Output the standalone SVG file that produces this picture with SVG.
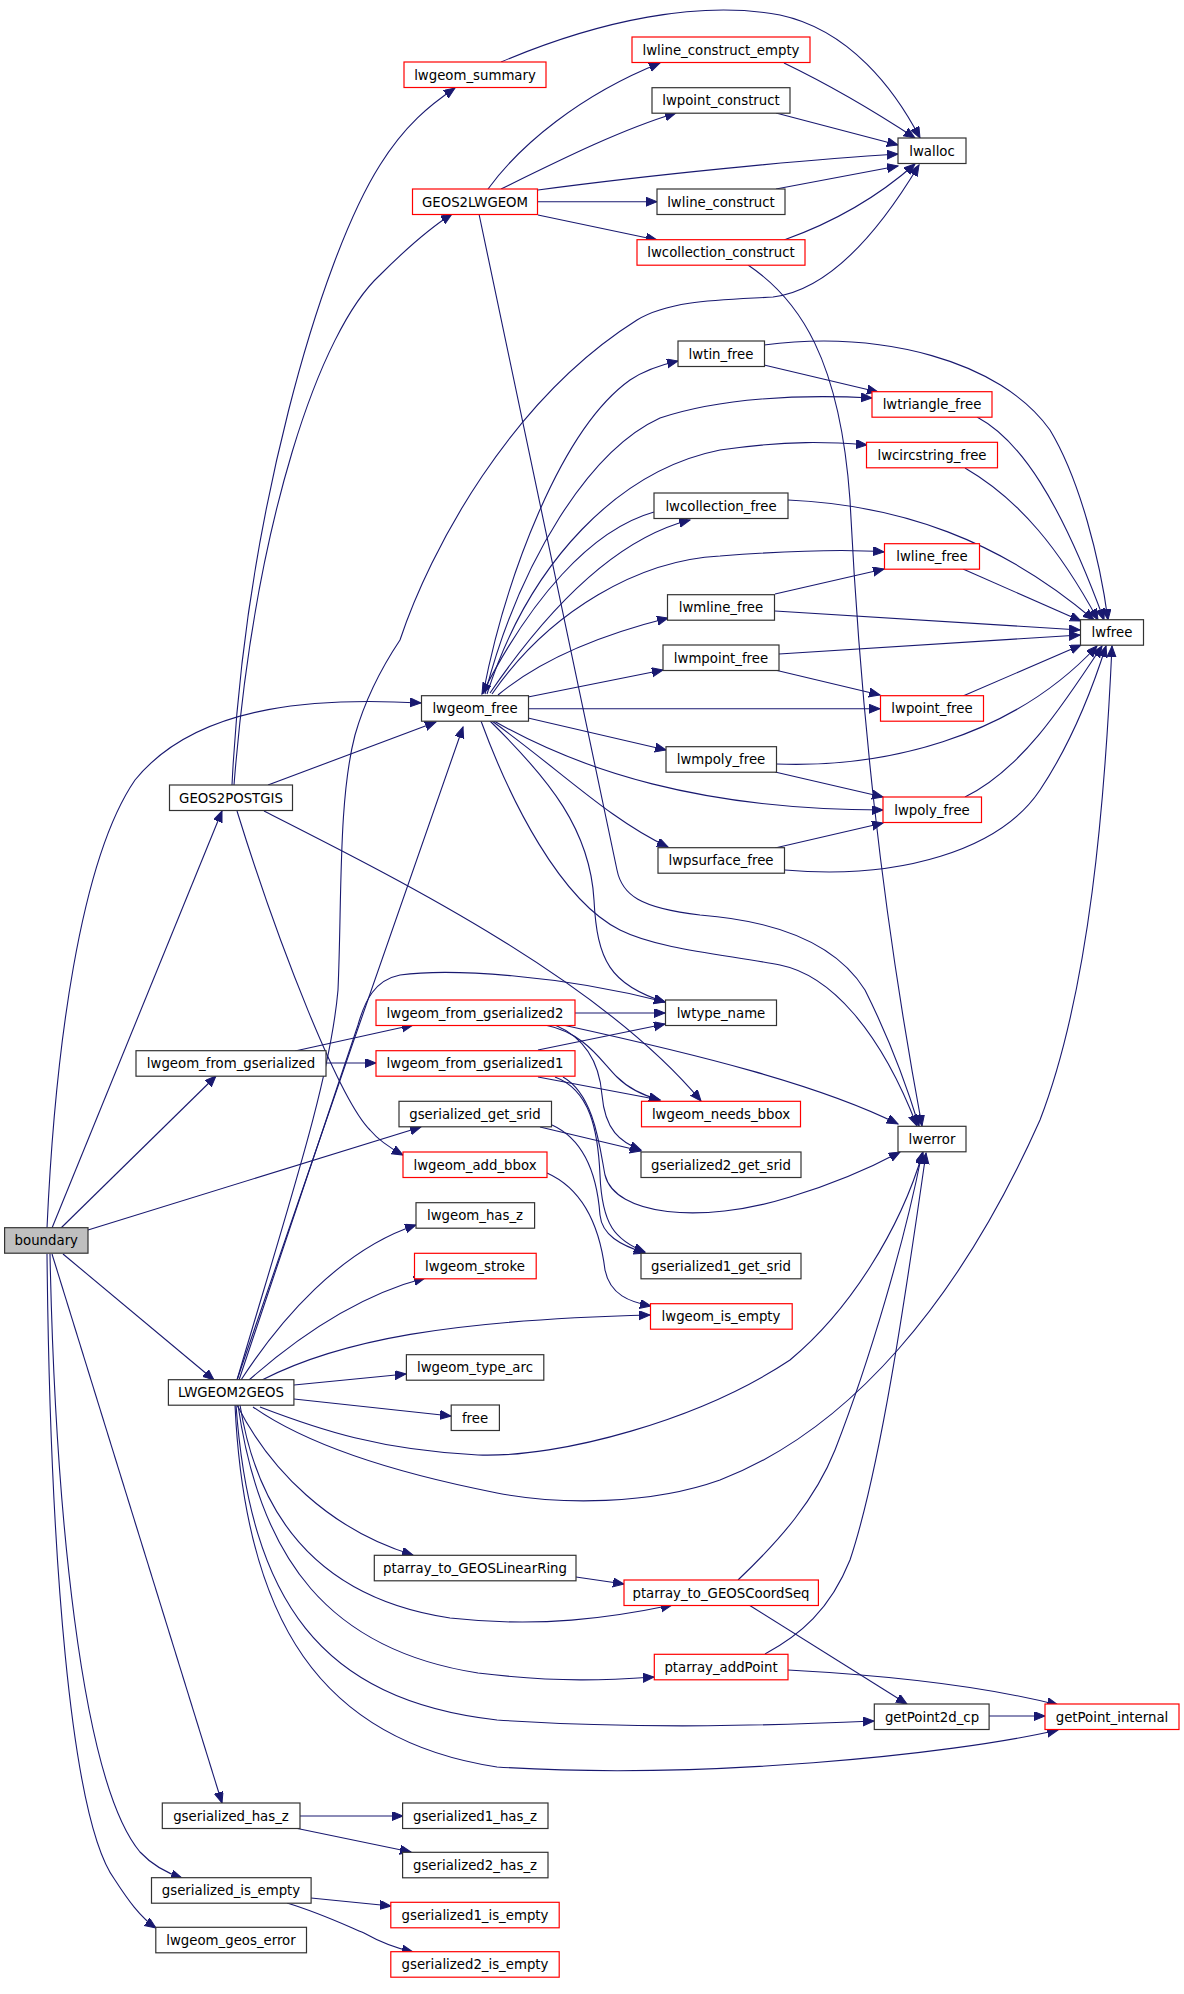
<svg xmlns="http://www.w3.org/2000/svg" width="1184" height="1994" viewBox="0 0 1184 1994">
<style>
rect{fill:#fff;stroke:#333;stroke-width:1.2}
.r rect{stroke:#f00}
.g rect{fill:#bfbfbf}
text{font-family:"DejaVu Sans",sans-serif;font-size:13.3px;text-anchor:middle;fill:#000}
#edges path{fill:none;stroke:#191970;stroke-width:1.1;marker-end:url(#a)}
</style>
<defs>
<marker id="a" markerWidth="13" markerHeight="10" refX="11" refY="4.5" orient="auto" markerUnits="userSpaceOnUse"><path d="M0,0 L11,4.5 L0,9 Z" fill="#191970" stroke="#191970" stroke-width="1"/></marker>
</defs>
<rect x="0" y="0" width="1184" height="1994" style="fill:#fff;stroke:none"/>
<g id="edges">
<path d="M47,1228 C55,1050 80,860 135,780 C200,700 330,698 421,703"/>
<path d="M52,1228 L222,811"/>
<path d="M61,1228 L216,1076"/>
<path d="M88,1230 L421,1127"/>
<path d="M63,1254 L214,1380"/>
<path d="M52,1254 L222,1803"/>
<path d="M50,1254 C55,1500 80,1780 140,1852 C155,1868 170,1874 182,1878"/>
<path d="M47,1254 C50,1550 70,1820 115,1880 C128,1900 140,1917 156,1928"/>
<path d="M232,785 C245,520 320,260 380,165 C405,125 430,105 455,88"/>
<path d="M234,785 C255,520 320,330 380,275 C405,250 430,228 452,214"/>
<path d="M268,785 L436,722"/>
<path d="M264,811 C400,880 600,980 701,1101"/>
<path d="M237,811 C280,950 340,1100 370,1130 C380,1142 392,1149 403,1155"/>
<path d="M295,1051 L413,1025"/>
<path d="M326,1063 L376,1063"/>
<path d="M575,1013 L665,1013"/>
<path d="M545,1025 C585,1033 600,1060 617,1077 C630,1090 645,1096 660,1100"/>
<path d="M555,1025 C590,1040 600,1070 602,1095 C605,1130 620,1142 641,1150"/>
<path d="M563,1025 C700,1055 820,1085 898,1124"/>
<path d="M538,1050 L665,1024"/>
<path d="M538,1077 L660,1100"/>
<path d="M555,1077 C590,1090 598,1130 600,1175 C602,1225 615,1240 645,1252"/>
<path d="M563,1077 C595,1095 600,1150 605,1175 C615,1215 700,1225 790,1197 C830,1185 870,1168 900,1152"/>
<path d="M540,1127 L641,1151"/>
<path d="M552,1125 C585,1140 597,1175 600,1215 C602,1235 620,1245 645,1253"/>
<path d="M547,1173 C585,1190 600,1230 605,1270 C610,1295 630,1302 651,1306"/>
<path d="M488,189 C520,145 580,95 660,63"/>
<path d="M501,189 C560,160 620,130 676,113"/>
<path d="M538,190 C650,175 800,160 898,154"/>
<path d="M538,201.7 L657,201.7"/>
<path d="M538,215 L657,240"/>
<path d="M479,214 L617,870 C622,895 640,908 700,915 C790,922 840,950 865,990 C885,1030 905,1080 919,1126"/>
<path d="M481,721 C510,800 560,900 620,930 C660,950 730,955 780,965 C830,975 880,1030 917,1126"/>
<path d="M490,721 C550,780 590,830 594,900 C597,960 610,985 665,1002"/>
<path d="M492,721 C560,770 610,820 668,847"/>
<path d="M494,721 C580,770 700,810 883,810"/>
<path d="M528,718 L666,750"/>
<path d="M528,708.7 L880,708.7"/>
<path d="M528,697 L663,670"/>
<path d="M498,695 C540,660 600,635 668,618"/>
<path d="M492,694 C550,610 640,560 720,556 C800,550 850,549 884,552"/>
<path d="M490,693 C540,620 610,540 690,520"/>
<path d="M654,512 C590,530 530,600 482,694"/>
<path d="M487,694 C530,560 620,470 720,450 C790,440 830,442 867,445"/>
<path d="M485,694 C520,560 590,450 660,418 C720,398 800,394 872,398"/>
<path d="M483,694 C505,580 560,430 630,380 C645,370 660,365 678,361"/>
<path d="M788,500 C900,505 1000,540 1094,620"/>
<path d="M963,569 L1081,621"/>
<path d="M775,611 L1080,630"/>
<path d="M779,654 L1080,635"/>
<path d="M963,696 L1081,645"/>
<path d="M776,764 C880,768 1010,740 1097,646"/>
<path d="M965,797 C1020,770 1060,710 1102,646"/>
<path d="M785,870 C900,880 1000,850 1040,790 C1070,745 1092,690 1106,646"/>
<path d="M764,345 C880,330 1000,360 1050,430 C1080,480 1100,560 1108,620"/>
<path d="M977,417 C1020,440 1060,500 1104,620"/>
<path d="M965,468 C1020,500 1060,550 1098,620"/>
<path d="M775,594 L884,569"/>
<path d="M775,670 L880,695"/>
<path d="M775,772 L883,797"/>
<path d="M775,848 L883,823"/>
<path d="M764,365 L878,392"/>
<path d="M784,63 C840,90 880,115 915,138"/>
<path d="M776,113 L898,145"/>
<path d="M776,189 L898,166"/>
<path d="M784,240 C840,220 880,195 915,164"/>
<path d="M501,62 C600,20 700,0 780,15 C850,30 895,90 920,138"/>
<path d="M748,265 C800,300 840,360 850,500 C860,700 880,900 922,1126"/>
<path d="M237,1380 C290,1200 330,1080 338,990 C342,900 338,800 355,735 C365,700 380,670 400,640 C430,550 510,400 637,320 C670,300 720,300 773,297 C830,290 880,230 919,165"/>
<path d="M237,1380 C270,1280 420,850 463,727"/>
<path d="M239,1380 L358,1025 C365,1000 375,980 400,975 C450,968 560,975 665,1002"/>
<path d="M241,1380 C280,1320 340,1250 416,1225"/>
<path d="M249,1380 C300,1335 360,1295 425,1278"/>
<path d="M262,1380 C340,1340 450,1320 650,1315"/>
<path d="M294,1385 L406,1374"/>
<path d="M294,1399 L451,1416"/>
<path d="M260,1407 C320,1430 380,1450 478,1455 C560,1458 700,1420 790,1360 C850,1310 900,1230 923,1152"/>
<path d="M253,1407 C300,1440 380,1470 497,1493 C560,1505 650,1505 720,1480 C850,1430 960,1300 1040,1120 C1090,990 1105,800 1112,646"/>
<path d="M237,1405 C270,1470 330,1530 413,1555"/>
<path d="M240,1405 C260,1530 330,1600 450,1618 C540,1628 610,1618 672,1605"/>
<path d="M238,1405 C260,1560 330,1650 478,1673 C560,1683 610,1680 654,1677"/>
<path d="M236,1405 C250,1600 320,1700 497,1720 C650,1730 780,1725 874,1721"/>
<path d="M235,1405 C245,1620 320,1740 497,1767 C700,1780 950,1755 1058,1730"/>
<path d="M576,1577 L624,1584"/>
<path d="M738,1580 C780,1540 815,1500 835,1450 C870,1360 905,1240 922,1153"/>
<path d="M765,1654 C800,1635 830,1610 850,1560 C880,1470 905,1300 926,1153"/>
<path d="M749,1605 L907,1704"/>
<path d="M788,1670 C880,1675 980,1685 1058,1705"/>
<path d="M989,1716 L1045,1716"/>
<path d="M300,1816 L403,1816"/>
<path d="M295,1828 L411,1852"/>
<path d="M311,1898 L391,1906"/>
<path d="M287,1903 C320,1913 345,1925 364,1933 C380,1942 395,1948 413,1952"/>
</g>
<g id="boundary" class="g"><rect x="4.6" y="1227.7" width="83.4" height="25.5"/><text x="46.3" y="1245">boundary</text></g>
<g id="lwline_construct_empty" class="r"><rect x="632" y="37" width="178" height="25.5"/><text x="721" y="54.5">lwline_construct_empty</text></g>
<g id="lwgeom_summary" class="r"><rect x="404" y="62" width="142" height="25.5"/><text x="475" y="79.5">lwgeom_summary</text></g>
<g id="lwpoint_construct"><rect x="652" y="87.7" width="138" height="25.5"/><text x="721" y="105.2">lwpoint_construct</text></g>
<g id="lwalloc"><rect x="898" y="138" width="68" height="25.5"/><text x="932" y="155.5">lwalloc</text></g>
<g id="GEOS2LWGEOM" class="r"><rect x="412.5" y="189" width="125" height="25.5"/><text x="475" y="206.5">GEOS2LWGEOM</text></g>
<g id="lwline_construct"><rect x="657" y="189" width="128" height="25.5"/><text x="721" y="206.5">lwline_construct</text></g>
<g id="lwcollection_construct" class="r"><rect x="637" y="239.7" width="168" height="25.5"/><text x="721" y="257.2">lwcollection_construct</text></g>
<g id="lwtin_free"><rect x="678" y="341" width="86.5" height="25.5"/><text x="721" y="358.5">lwtin_free</text></g>
<g id="lwtriangle_free" class="r"><rect x="872" y="391.7" width="120" height="25.5"/><text x="932" y="409.2">lwtriangle_free</text></g>
<g id="lwcircstring_free" class="r"><rect x="866.5" y="442.3" width="131" height="25.5"/><text x="932" y="459.8">lwcircstring_free</text></g>
<g id="lwcollection_free"><rect x="654" y="493" width="134" height="25.5"/><text x="721" y="510.5">lwcollection_free</text></g>
<g id="lwline_free" class="r"><rect x="884.5" y="543.7" width="95" height="25.5"/><text x="932" y="561.2">lwline_free</text></g>
<g id="lwmline_free"><rect x="667.5" y="594.7" width="107" height="25.5"/><text x="721" y="612.2">lwmline_free</text></g>
<g id="lwfree"><rect x="1080.5" y="619.7" width="63" height="25.5"/><text x="1112" y="637.2">lwfree</text></g>
<g id="lwmpoint_free"><rect x="663" y="645" width="116" height="25.5"/><text x="721" y="662.5">lwmpoint_free</text></g>
<g id="lwpoint_free" class="r"><rect x="880.5" y="695.7" width="103" height="25.5"/><text x="932" y="713.2">lwpoint_free</text></g>
<g id="lwgeom_free"><rect x="421.5" y="695.7" width="107" height="25.5"/><text x="475" y="713.2">lwgeom_free</text></g>
<g id="GEOS2POSTGIS"><rect x="169.5" y="785" width="123" height="25.5"/><text x="231" y="802.5">GEOS2POSTGIS</text></g>
<g id="lwmpoly_free"><rect x="666" y="746.7" width="110.5" height="25.5"/><text x="721" y="764.2">lwmpoly_free</text></g>
<g id="lwpoly_free" class="r"><rect x="883" y="797" width="98.5" height="25.5"/><text x="932" y="814.5">lwpoly_free</text></g>
<g id="lwpsurface_free"><rect x="658" y="847.7" width="126.5" height="25.5"/><text x="721" y="865.2">lwpsurface_free</text></g>
<g id="lwtype_name"><rect x="665.5" y="1000" width="111" height="25.5"/><text x="721" y="1017.5">lwtype_name</text></g>
<g id="lwgeom_from_gserialized2" class="r"><rect x="376" y="1000" width="199" height="25.5"/><text x="475" y="1017.5">lwgeom_from_gserialized2</text></g>
<g id="lwgeom_from_gserialized"><rect x="136" y="1050.7" width="190" height="25.5"/><text x="231" y="1068.2">lwgeom_from_gserialized</text></g>
<g id="lwgeom_from_gserialized1" class="r"><rect x="376" y="1050.7" width="199" height="25.5"/><text x="475" y="1068.2">lwgeom_from_gserialized1</text></g>
<g id="gserialized_get_srid"><rect x="399" y="1101.3" width="152.5" height="25.5"/><text x="475" y="1118.8">gserialized_get_srid</text></g>
<g id="lwgeom_needs_bbox" class="r"><rect x="641.5" y="1101.3" width="159" height="25.5"/><text x="721" y="1118.8">lwgeom_needs_bbox</text></g>
<g id="lwerror"><rect x="898" y="1126.3" width="68" height="25.5"/><text x="932" y="1143.8">lwerror</text></g>
<g id="lwgeom_add_bbox" class="r"><rect x="403" y="1152" width="144" height="25.5"/><text x="475" y="1169.5">lwgeom_add_bbox</text></g>
<g id="gserialized2_get_srid"><rect x="641" y="1152" width="160" height="25.5"/><text x="721" y="1169.5">gserialized2_get_srid</text></g>
<g id="lwgeom_has_z"><rect x="416" y="1202.7" width="118.6" height="25.5"/><text x="475" y="1220.2">lwgeom_has_z</text></g>
<g id="lwgeom_stroke" class="r"><rect x="414.5" y="1253.3" width="121.7" height="25.5"/><text x="475" y="1270.8">lwgeom_stroke</text></g>
<g id="gserialized1_get_srid"><rect x="641" y="1253.3" width="160" height="25.5"/><text x="721" y="1270.8">gserialized1_get_srid</text></g>
<g id="lwgeom_is_empty" class="r"><rect x="650.5" y="1303.7" width="141.7" height="25.5"/><text x="721" y="1321.2">lwgeom_is_empty</text></g>
<g id="lwgeom_type_arc"><rect x="406.4" y="1354.7" width="137.4" height="25.5"/><text x="475" y="1372.2">lwgeom_type_arc</text></g>
<g id="LWGEOM2GEOS"><rect x="168.4" y="1379.7" width="125.5" height="25.5"/><text x="231" y="1397.2">LWGEOM2GEOS</text></g>
<g id="free"><rect x="451.2" y="1405" width="48.2" height="25.5"/><text x="475" y="1422.5">free</text></g>
<g id="ptarray_to_GEOSLinearRing"><rect x="374.3" y="1555.3" width="201.7" height="25.5"/><text x="475" y="1572.8">ptarray_to_GEOSLinearRing</text></g>
<g id="ptarray_to_GEOSCoordSeq" class="r"><rect x="624" y="1580" width="194.4" height="25.5"/><text x="721" y="1597.5">ptarray_to_GEOSCoordSeq</text></g>
<g id="ptarray_addPoint" class="r"><rect x="654.3" y="1654.3" width="133.7" height="25.5"/><text x="721" y="1671.8">ptarray_addPoint</text></g>
<g id="getPoint2d_cp"><rect x="874.3" y="1704" width="114.8" height="25.5"/><text x="932" y="1721.5">getPoint2d_cp</text></g>
<g id="getPoint_internal" class="r"><rect x="1045" y="1704" width="134" height="25.5"/><text x="1112" y="1721.5">getPoint_internal</text></g>
<g id="gserialized_has_z"><rect x="162.3" y="1803" width="137.7" height="25.5"/><text x="231" y="1820.5">gserialized_has_z</text></g>
<g id="gserialized1_has_z"><rect x="402.6" y="1803" width="145.4" height="25.5"/><text x="475" y="1820.5">gserialized1_has_z</text></g>
<g id="gserialized2_has_z"><rect x="402.6" y="1852.3" width="145.4" height="25.5"/><text x="475" y="1869.8">gserialized2_has_z</text></g>
<g id="gserialized_is_empty"><rect x="151.5" y="1877.7" width="159.6" height="25.5"/><text x="231" y="1895.2">gserialized_is_empty</text></g>
<g id="gserialized1_is_empty" class="r"><rect x="390.8" y="1902.3" width="168.4" height="25.5"/><text x="475" y="1919.8">gserialized1_is_empty</text></g>
<g id="lwgeom_geos_error"><rect x="155.8" y="1927.3" width="150.7" height="25.5"/><text x="231" y="1944.8">lwgeom_geos_error</text></g>
<g id="gserialized2_is_empty" class="r"><rect x="390.8" y="1951.7" width="168.4" height="25.5"/><text x="475" y="1969.2">gserialized2_is_empty</text></g>
</svg>
